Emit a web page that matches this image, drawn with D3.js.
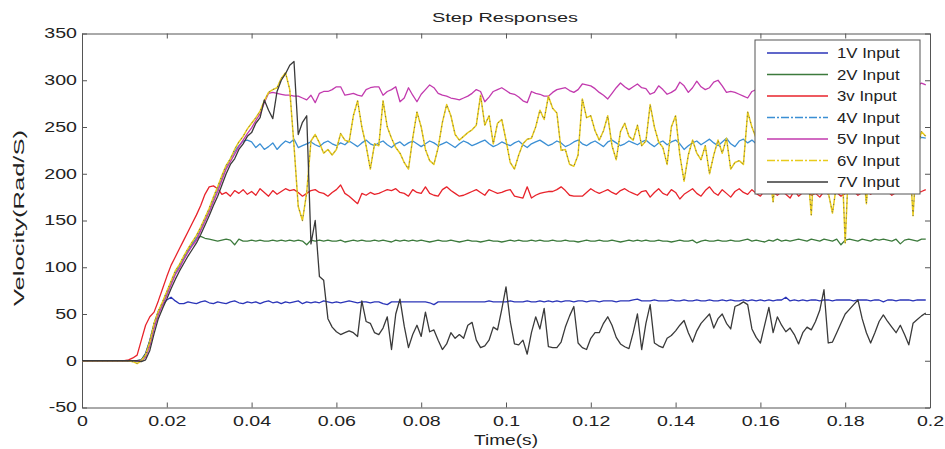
<!DOCTYPE html>
<html lang="en">
  <head>
    <meta charset="UTF-8" />
    <title>Step Responses</title>
    <script src="https://d3js.org/d3.v7.min.js"></script>
    <style>
      body { margin: 0; background: #fff; }
      text { font-family: "Liberation Sans", Arial, sans-serif; fill: #222; }
      .axis path, .axis line { stroke: #555; stroke-width: 1; }
    </style>
  </head>
  <body>
    <div id="chart"></div>
    <script>
      // sample period of the logged responses (s)
      const sampleStep = 0.001;

      const xTicks = [0, 0.02, 0.04, 0.06, 0.08, 0.1, 0.12, 0.14, 0.16, 0.18, 0.2];
      const xTickLabels = ["0", "0.02", "0.04", "0.06", "0.08", "0.1", "0.12", "0.14", "0.16", "0.18", "0.2"];
      const yTicks = [-50, 0, 50, 100, 150, 200, 250, 300, 350];
      const yTickLabels = ["-50", "0", "50", "100", "150", "200", "250", "300", "350"];

      const seriesNames = ["1V Input", "2V Input", "3v Input", "4V Input", "5V Input", "6V Input", "7V Input"];
      const seriesColors = ["#2b35b8", "#3c7a3c", "#e8232b", "#3b8fd4", "#c23aae", "#e8cb1c", "#3a3a3a"];

      const v1 = [
        0,0,0,0,0,0,0,0,0,0, 0,0,0,0,1,8,22,40,53,60,
        65,68,64,61,61,63,62,61,63,64, 62,61,63,62,61,63,64,62,61,63,
        62,63,61,63,64,62,63,61,63,62, 63,64,61,63,62,63,62,64,63,62,
        63,62,63,64,63,62,63,63,62,63, 63,61,60,63,63,63,63,63,63,63,
        63,63,62,60,63,63,63,63,63,63, 63,63,63,63,63,63,64,63,63,63,
        63,64,63,63,63,64,63,63,64,63, 64,63,64,63,64,64,63,64,64,63,
        64,64,63,64,64,64,63,64,64,64, 65,66,64,64,64,65,64,64,64,65,
        64,64,65,64,64,65,64,64,65,64, 64,65,64,65,64,64,65,64,65,64,
        65,64,65,64,65,65,68,64,65,64, 65,64,65,65,64,65,65,64,65,65,
        65,65,64,65,65,65,64,65,65,63, 65,65,64,65,65,65,64,65,65,65
      ];
      const v2 = [
        0,0,0,0,0,0,0,0,0,0, 0,0,0,0,1,7,21,39,52,62,
        73,84,94,102,110,118,125,131,133,131, 130,129,128,129,130,129,124,130,128,128,
        129,128,129,128,128,129,128,129,128,129, 128,129,128,124,129,128,129,128,129,128,
        128,129,127,128,129,128,129,128,128,129, 128,129,128,127,129,128,129,128,129,128,
        129,128,127,128,129,128,128,129,128,127, 128,129,128,128,127,128,129,128,128,127,
        128,129,128,129,128,128,129,128,129,128, 128,129,128,128,129,128,128,127,128,129,
        128,128,129,128,128,129,128,127,128,129, 128,129,128,129,128,128,129,128,128,127,
        128,129,128,128,129,126,128,129,128,128, 129,128,128,129,128,128,129,130,128,129,
        128,127,129,128,130,128,129,128,129,130, 129,128,130,129,128,130,129,128,130,124,
        129,130,129,128,130,129,128,130,129,130, 129,128,130,125,129,130,129,128,130,130
      ];
      const v3 = [
        0,0,0,0,0,0,0,0,0,0, 0,1,3,6,22,38,47,52,64,77,
        90,102,111,120,129,138,147,156,166,178, 186,187,184,178,180,176,182,179,183,178,
        181,177,184,180,176,182,178,181,184,182, 183,180,176,179,182,183,180,179,176,180,
        183,188,179,176,172,168,179,177,180,178, 179,181,183,182,184,180,179,176,183,180,
        179,186,179,177,176,183,186,182,179,176, 177,179,181,183,180,177,183,181,179,180,
        182,183,176,175,174,186,174,177,179,180, 181,181,183,186,182,177,176,176,176,180,
        184,181,179,181,183,180,178,182,184,181, 179,177,181,182,175,180,184,179,177,183,
        180,173,178,181,184,179,176,182,186,180, 177,183,179,175,181,184,180,178,183,179,
        176,182,185,180,177,181,178,174,182,176, 180,183,177,179,175,181,178,184,180,176,
        179,183,181,177,180,182,178,181,184,179, 181,177,180,183,179,182,184,180,181,183
      ];
      const v4 = [
        0,0,0,0,0,0,0,0,0,0, 0,0,0,0,0,5,18,37,51,61,
        71,83,93,101,109,117,124,131,141,151, 161,173,184,196,207,216,224,230,235,236,
        234,228,232,226,229,233,226,231,235,233, 237,228,230,232,234,231,229,233,235,232,
        230,233,231,235,232,229,233,236,232,230, 233,235,231,228,232,234,230,233,235,232,
        229,232,235,233,230,232,234,231,228,232, 235,233,230,232,234,236,232,229,231,234,
        232,230,233,235,231,228,232,234,236,233, 230,232,235,233,229,231,234,236,232,230,
        233,235,232,229,234,236,233,230,232,235, 233,231,234,236,232,229,233,235,231,234,
        236,232,226,230,233,235,231,234,237,233, 230,234,238,232,229,235,237,233,236,232,
        234,237,233,236,239,235,232,236,238,234, 236,239,235,233,237,240,236,234,238,236,
        239,235,237,240,236,234,238,237,240,236, 238,241,237,235,239,238,240,237,239,238
      ];
      const v5 = [
        0,0,0,0,0,0,0,0,0,0, 0,0,0,0,0,4,16,35,49,60,
        70,81,92,99,108,116,123,129,139,149, 159,170,181,193,205,213,221,229,236,243,
        249,257,264,276,286,287,286,285,284,284, 283,283,281,279,284,276,286,288,288,290,
        293,293,284,285,286,284,283,290,292,293, 293,284,288,290,293,277,281,292,284,277,
        285,290,295,292,286,284,283,281,280,279, 281,283,286,290,288,277,282,288,290,292,
        289,286,285,282,278,276,288,286,285,283, 283,287,290,291,292,289,287,290,296,295,
        294,291,287,284,280,286,292,297,293,290, 293,296,292,291,285,287,294,290,285,287,
        290,298,294,287,292,299,293,290,292,298, 300,294,287,288,287,285,283,281,288,290,
        286,290,288,292,285,287,289,293,290,286, 288,292,290,287,291,289,286,290,293,288,
        291,287,290,292,288,290,293,289,291,294, 290,292,294,291,295,293,296,294,297,295
      ];
      const v6 = [
        0,0,0,0,0,0,0,0,0,0, 0,0,-1,-3,0,6,20,40,53,63,
        74,85,96,103,112,120,127,134,143,153, 163,175,186,198,209,216,226,234,240,248,
        254,260,267,278,287,290,292,302,308,290, 230,165,150,180,235,242,233,222,226,220,
        226,243,236,234,262,278,250,230,205,232, 230,278,250,238,228,222,212,205,238,266,
        250,226,214,210,228,255,274,262,242,236, 240,244,247,252,284,252,262,232,254,258,
        236,212,205,220,232,237,238,250,268,258, 283,270,265,225,226,210,208,220,280,260,
        262,246,236,246,262,230,215,245,254,240, 236,252,230,235,274,250,234,228,210,250,
        262,220,192,220,236,222,215,230,200,220, 236,222,238,205,212,214,210,266,250,238,
        226,235,205,170,215,240,190,238,250,226, 240,212,156,235,250,238,180,158,190,240,
        126,230,255,240,215,168,232,260,244,230, 240,252,222,238,246,230,155,228,245,240
      ];
      const v7 = [
        0,0,0,0,0,0,0,0,0,0, 0,0,0,0,-1,1,11,29,45,56,
        66,77,87,96,104,112,119,126,135,145, 155,166,176,188,200,210,216,226,232,240,
        244,254,260,279,268,259,288,300,307,316, 320,242,255,262,125,150,90,86,45,36,
        31,28,30,32,30,26,64,42,40,30, 28,35,47,12,50,66,37,14,28,38,
        26,52,31,33,22,12,18,30,24,28, 24,38,41,22,14,16,22,36,33,55,
        79,42,18,17,22,7,30,47,34,56, 15,14,14,20,36,48,58,19,14,12,
        24,30,30,40,47,38,25,18,15,13, 30,50,12,40,60,19,16,14,24,27,
        32,38,43,30,20,32,40,45,50,35, 45,50,40,34,58,60,63,60,34,25,
        19,38,57,30,47,38,31,35,28,18, 30,36,33,42,54,76,19,20,30,40,
        50,55,60,65,45,30,19,30,42,49, 42,36,30,38,28,17,40,44,48,51
      ];
      const seriesValues = [v1, v2, v3, v4, v5, v6, v7];

      const width = 945;
      const height = 449;
      const plotLeft = 82, plotRight = 930, plotTop = 33.5, plotBottom = 407.5;
      const tickStretch = 1.4;

      const svg = d3.select("#chart").append("svg").attr("width", width).attr("height", height);

      const x = d3.scaleLinear().domain([0, 0.2]).range([plotLeft, plotRight]);
      const y = d3.scaleLinear().domain([-50, 350]).range([plotBottom, plotTop]);

      svg.append("defs").append("clipPath").attr("id", "plot-clip")
        .append("rect").attr("x", plotLeft).attr("y", plotTop)
        .attr("width", plotRight - plotLeft).attr("height", plotBottom - plotTop);

      // frame with inward ticks on all four sides
      const xAxis = svg.append("g").attr("class", "axis").attr("transform", `translate(0,${plotBottom})`)
        .call(d3.axisBottom(x).tickValues(xTicks).tickSize(-5).tickSizeOuter(0).tickPadding(9)
          .tickFormat((d, i) => xTickLabels[i]));
      xAxis.selectAll("text").attr("font-size", 14).attr("fill", "#222")
        .attr("transform", `scale(${tickStretch},1)`);

      const yAxis = svg.append("g").attr("class", "axis").attr("transform", `translate(${plotLeft},0)`)
        .call(d3.axisLeft(y).tickValues(yTicks).tickSize(-5).tickSizeOuter(0).tickPadding(5)
          .tickFormat((d, i) => yTickLabels[i]));
      yAxis.selectAll("text").attr("font-size", 14).attr("fill", "#222")
        .attr("x", -5 / tickStretch).attr("transform", `scale(${tickStretch},1)`);

      svg.append("g").attr("class", "axis").attr("transform", `translate(0,${plotTop})`)
        .call(d3.axisTop(x).tickValues(xTicks).tickSize(-5).tickSizeOuter(0).tickFormat(""));
      svg.append("g").attr("class", "axis").attr("transform", `translate(${plotRight},0)`)
        .call(d3.axisRight(y).tickValues(yTicks).tickSize(-5).tickSizeOuter(0).tickFormat(""));

      const line = d3.line().x((d, i) => x(i * sampleStep)).y((d) => y(d));

      const plot = svg.append("g").attr("clip-path", "url(#plot-clip)");
      seriesValues.forEach((vals, k) => {
        plot.append("path").datum(vals)
          .attr("fill", "none")
          .attr("stroke", seriesColors[k])
          .attr("stroke-width", k === 5 ? 1.5 : 1.3)
          .attr("stroke-linejoin", "round")
          .attr("d", line);
        if (k === 5) {
          // printed dash-dot look of the 6V trace
          plot.append("path").datum(vals)
            .attr("fill", "none")
            .attr("stroke", "#555")
            .attr("stroke-width", 0.9)
            .attr("stroke-dasharray", "1,4")
            .attr("d", line);
        }
      });

      // legend
      const legend = svg.append("g").attr("transform", "translate(755,40)");
      legend.append("rect").attr("width", 165).attr("height", 154)
        .attr("fill", "#fff").attr("stroke", "#555").attr("stroke-width", 1);
      seriesNames.forEach((name, k) => {
        const ly = 13 + k * 21.5;
        legend.append("line").attr("x1", 12).attr("x2", 73).attr("y1", ly).attr("y2", ly)
          .attr("stroke", seriesColors[k]).attr("stroke-width", 1.3)
          .attr("stroke-dasharray", k === 3 || k === 5 ? "8,2,2,2" : null);
        legend.append("text").attr("transform", `translate(82,${ly + 5}) scale(1.2,1)`)
          .attr("font-size", 14).text(name);
      });

      // titles
      svg.append("text").attr("x", 505).attr("y", 22).attr("text-anchor", "middle")
        .attr("font-size", 13).attr("textLength", 146).attr("lengthAdjust", "spacingAndGlyphs")
        .text("Step Responses");
      svg.append("text").attr("x", 506).attr("y", 445).attr("text-anchor", "middle")
        .attr("font-size", 14).attr("textLength", 64).attr("lengthAdjust", "spacingAndGlyphs")
        .text("Time(s)");
      svg.append("text").attr("transform", "translate(24,218) rotate(-90)").attr("text-anchor", "middle")
        .attr("font-size", 14).attr("textLength", 176).attr("lengthAdjust", "spacingAndGlyphs")
        .text("Velocity(Rad/S)");
    </script>
  </body>
</html>
